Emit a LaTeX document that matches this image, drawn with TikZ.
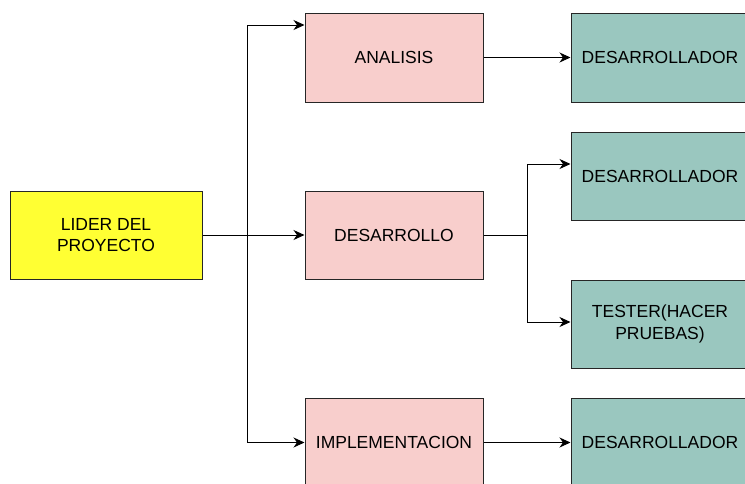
\documentclass[tikz,border=0pt]{standalone}
\usepackage{fontspec}
\setmainfont{Liberation Sans}
\usetikzlibrary{arrows.meta, positioning, calc}
\definecolor{lideryellow}{RGB}{255,255,51}
\definecolor{fasepink}{RGB}{248,206,204}
\definecolor{equipoteal}{RGB}{154,199,191}

\begin{document}
\begin{tikzpicture}[x=1pt, y=-1pt,
  caja/.style={draw=black!85, line width=1pt, minimum width=178pt, minimum height=89pt,
    inner sep=0pt, align=center, font=\fontsize{17.5}{21.5}\selectfont},
  fase/.style={caja, fill=fasepink},
  equipo/.style={caja, fill=equipoteal},
  flecha/.style={line width=1pt, -{Stealth[length=11pt, width=10pt, inset=3.5pt]}}]
\useasboundingbox (0,0) rectangle (745,483);

% lider y fases
\node[caja, fill=lideryellow, minimum width=192pt, minimum height=88pt] (lider) at (106,235) {LIDER DEL\\PROYECTO};
\node[fase] (analisis) at (394,57.5) {ANALISIS};
\node[fase, minimum height=88pt] (desarrollo) at (394,235) {DESARROLLO};
\node[fase] (implementacion) at (394,442.5) {IMPLEMENTACION};

% equipo
\node[equipo] (dev1) at (660,57.5) {DESARROLLADOR};
\node[equipo, minimum height=88pt] (dev2) at (660,176) {DESARROLLADOR};
\node[equipo, minimum height=88pt] (tester) at (660,324) {TESTER(HACER\\PRUEBAS)};
\node[equipo] (dev3) at (660,442.5) {DESARROLLADOR};

% conexiones
\coordinate (jl) at (247,235);
\coordinate (jd) at (527,235);
\draw[line width=1pt] (lider.east) -- (jl);
\draw[flecha] (jl) -- (desarrollo.west);
\draw[flecha] (jl) |- ($(analisis.west)+(0,-32.5)$);
\draw[flecha] (jl) |- (implementacion.west);
\draw[flecha] (analisis.east) -- (dev1.west);
\draw[line width=1pt] (desarrollo.east) -- (jd);
\draw[flecha] (jd) |- ($(dev2.west)+(0,-12)$);
\draw[flecha] (jd) |- ($(tester.west)+(0,-2)$);
\draw[flecha] (implementacion.east) -- (dev3.west);
\end{tikzpicture}
\end{document}
